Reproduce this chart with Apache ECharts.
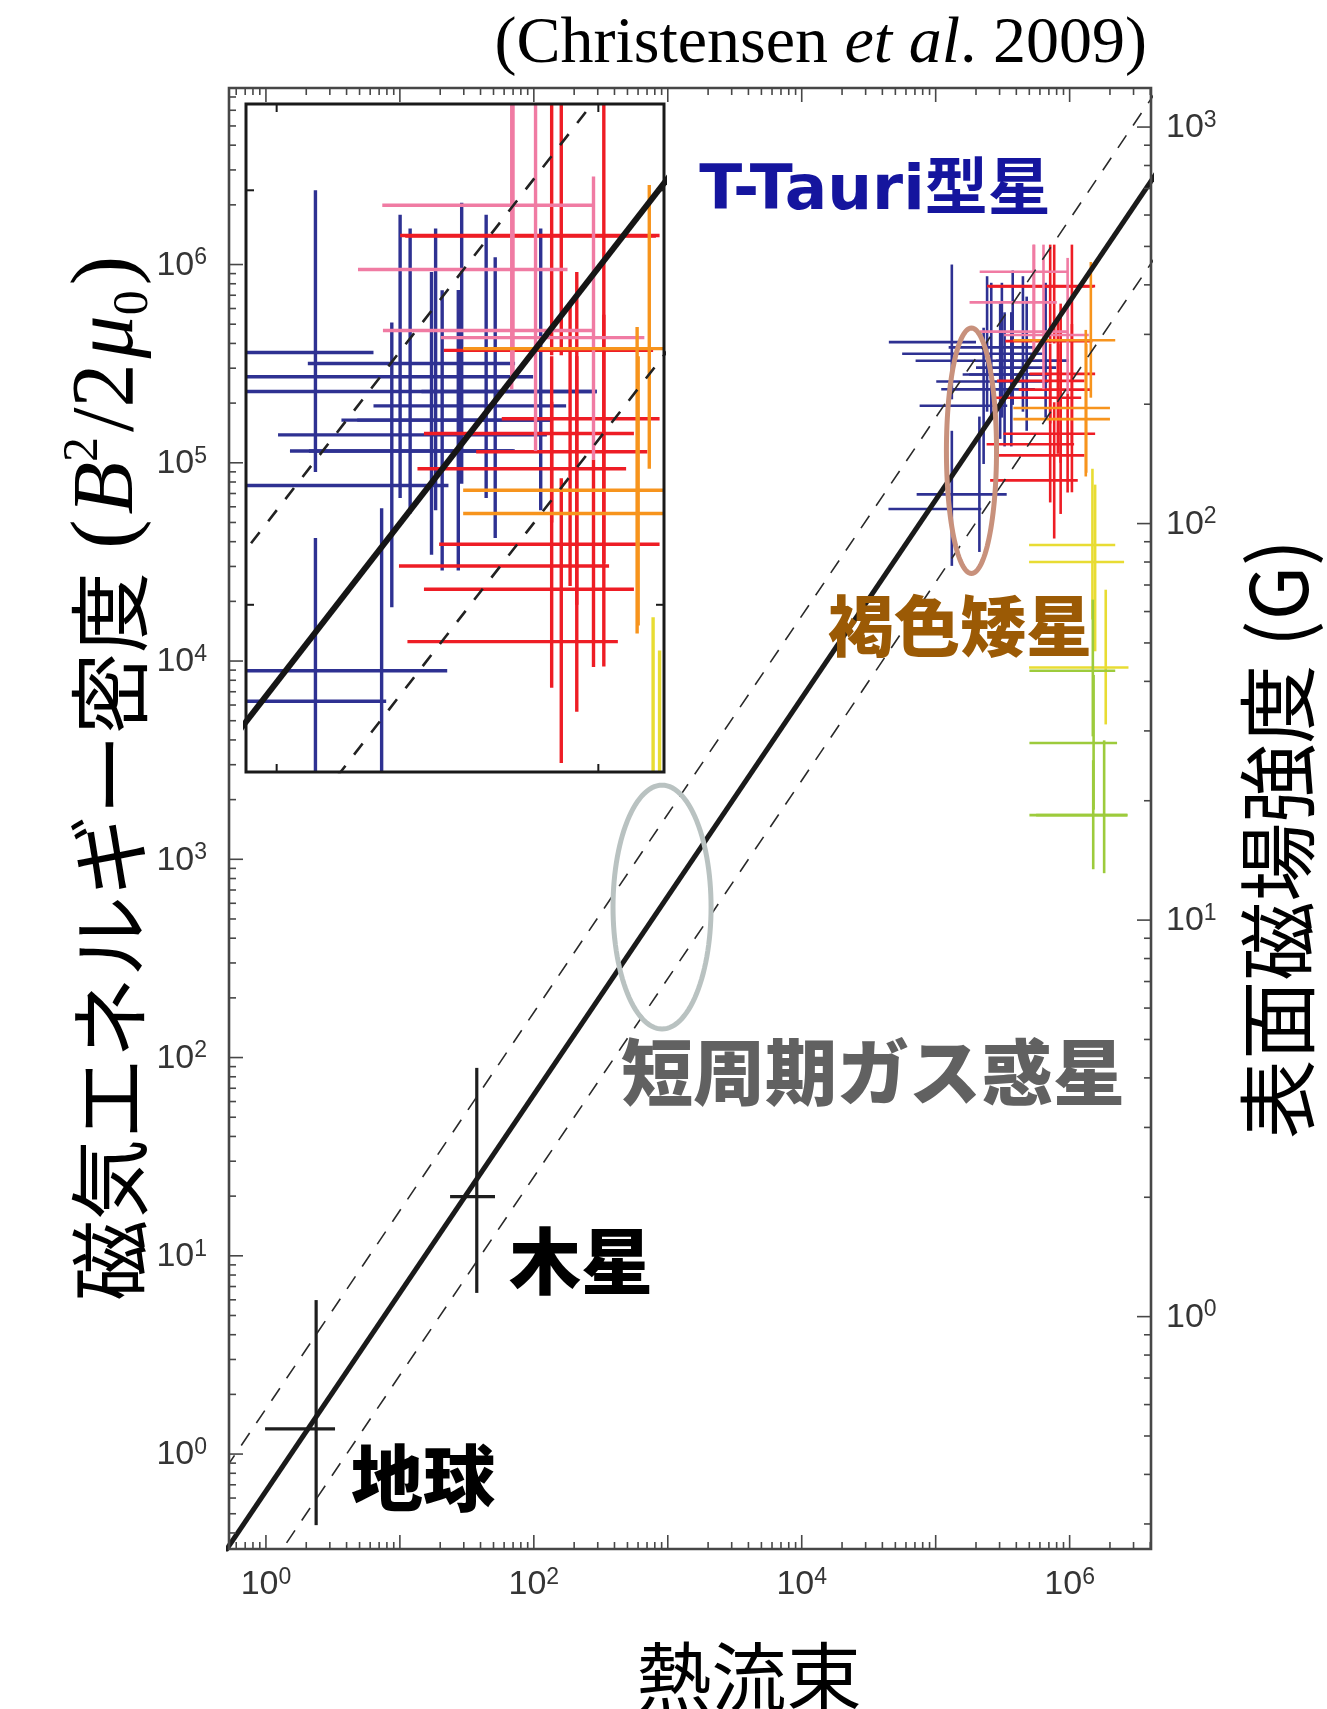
<!DOCTYPE html>
<html>
<head>
<meta charset="utf-8">
<script src="https://cdn.jsdelivr.net/npm/echarts@6/dist/echarts.min.js"></script>
<style>
  html, body { margin: 0; padding: 0; background: #fff; }
  #chart { width: 1327px; height: 1709px; }
</style>
</head>
<body>
<div id="chart"></div>
<script>
// Magnetic energy density vs. energy flux (Christensen et al. 2009)

// ---- axis ranges -------------------------------------------------------
const fluxRange = [0.530, 4.05e6];          // heat flux (bottom axis)
const energyRange = [0.332, 7.77e6];        // B^2/2mu0 (left axis)
const fieldRange = [0.2594, 1254.6];        // surface field in G (right axis)
const insetFluxRange = [8.03e4, 1.60e6];    // magnified panel
const insetEnergyRange = [3.95e4, 1.615e6];

// ---- tick labels (exponents of ten) -----------------------------------
const fluxLabelExponents = [0, 2, 4, 6];
const energyLabelExponents = [0, 1, 2, 3, 4, 5, 6];
const fieldLabelExponents = [0, 1, 2, 3];
const insetTickValues = [1e5, 1e6];

// ---- scaling law and its spread ---------------------------------------
const fitLine = [[0.3, 0.195], [1e7, 6.5e6]];
const fitUpper = [[0.3, 0.507], [1e7, 1.69e7]];
const fitLower = [[0.3, 0.075], [1e7, 2.5e6]];

// ---- objects: [flux, energy, fluxLow, fluxHigh, energyLow, energyHigh] --
const planets = [
  [2.37, 1.34, 0.985, 3.28, 0.438, 5.98],     // Earth
  [37.5, 19.9, 23.7, 51.3, 6.5, 88.7]         // Jupiter
];

const blueStars = [
  [1.32e5, 4.06e5, 4.47e4, 2.0e5, 2.09e5, 1.0e6],
  [2.42e5, 3.82e5, 1.25e5, 5.51e5, 1.81e5, 8.73e5],
  [2.60e5, 3.55e5, 5.62e4, 6.27e5, 1.66e5, 8.09e5],
  [3.03e5, 3.27e5, 7.08e4, 9.89e5, 1.32e5, 6.35e5],
  [3.12e5, 2.79e5, 1.59e5, 7.08e5, 1.69e5, 8.09e5],
  [3.27e5, 2.57e5, 1.01e5, 6.92e5, 1.21e5, 5.74e5],
  [3.67e5, 2.35e5, 1.10e5, 5.45e5, 1.21e5, 5.75e5],
  [3.76e5, 3.02e5, 2.0e5, 7.94e5, 1.96e5, 9.33e5],
  [4.48e5, 2.79e5, 1.78e5, 7.08e5, 1.81e5, 8.73e5],
  [4.78e5, 2.35e5, 1.26e5, 5.50e5, 1.45e5, 6.89e5],
  [6.62e5, 3.27e5, 2.82e5, 9.89e5, 1.69e5, 8.09e5],
  [2.28e5, 1.94e5, 7.59e4, 3.42e5, 9.86e4, 4.80e5],
  [1.32e5, 6.93e4, 7.21e4, 3.39e5, 3.02e4, 1.45e5],
  [2.12e5, 5.85e4, 4.44e4, 2.19e5, 3.55e4, 1.71e5]
];

const redStars = [
  [7.16e5, 7.78e5, 2.42e5, 1.55e6, 4.0e5, 3.16e6],
  [7.67e5, 7.76e5, 2.51e5, 1.51e6, 4.0e5, 3.16e6],
  [7.16e5, 1.40e5, 3.20e5, 1.55e6, 6.31e4, 3.09e5],
  [7.67e5, 8.15e4, 2.55e5, 1.15e6, 4.15e4, 2.02e5],
  [8.17e5, 2.34e5, 4.17e5, 1.42e6, 1.11e5, 5.28e5],
  [8.57e5, 1.24e5, 2.40e5, 1.08e6, 5.52e4, 6.35e5],
  [9.66e5, 1.09e5, 2.87e5, 1.29e6, 7.08e4, 2.24e5],
  [1.04e6, 4.11e5, 3.31e5, 1.48e6, 7.10e4, 3.16e6],
  [8.57e5, 2.13e5, 2.74e5, 1.22e6, 1.0e5, 3.98e5],
  [7.16e5, 2.81e5, 5.01e5, 1.55e6, 1.58e5, 3.98e5],
  [1.04e6, 2.59e5, 2.87e5, 1.29e6, 1.26e5, 5.01e5]
];

const pinkStars = [
  [5.38e5, 4.59e5, 2.14e5, 9.59e5, 3.31e5, 3.16e6],
  [6.38e5, 6.44e5, 1.79e5, 8.02e5, 2.35e5, 3.16e6],
  [9.66e5, 4.41e5, 3.24e5, 1.39e6, 2.24e5, 1.08e6],
  [5.43e5, 9.20e5, 2.13e5, 9.59e5, 3.55e5, 3.16e6]
];

const orangeStars = [
  [1.44e6, 4.15e5, 3.80e5, 2.19e6, 2.13e5, 1.03e6],
  [1.32e6, 1.89e5, 3.80e5, 2.0e6, 8.53e4, 4.68e5],
  [1.33e6, 1.66e5, 3.80e5, 2.0e6, 8.91e4, 3.98e5]
];

const yellowStars = [
  [1.48e6, 3.85e4, 4.98e5, 2.19e6, 1.62e4, 9.33e4],
  [1.55e6, 3.16e4, 4.98e5, 2.55e6, 1.12e4, 7.76e4],
  [1.86e6, 9.27e3, 4.98e5, 2.75e6, 4.79e3, 2.29e4]
];

const greenStars = [
  [1.49e6, 8.93e3, 5.01e5, 2.19e6, 4.17e3, 2.04e4],
  [1.51e6, 3.86e3, 5.01e5, 2.26e6, 1.78e3, 8.51e3],
  [1.50e6, 1.67e3, 5.01e5, 2.71e6, 891, 3.16e3],
  [1.81e6, 1.67e3, 5.62e5, 2.69e6, 851, 3.98e3]
];

// stellar error bars are cut at the top of the source panel in the main plot
const sourcePanelTop = 1.26e6;

// highlight rings: centre (flux, energy) and half-widths in decades
const rings = [
  { center: [1.85e5, 1.15e5], halfDecades: [0.187, 0.619], color: '#c8917c' },
  { center: [906, 574], halfDecades: [0.366, 0.615], color: '#b9c2c1' }
];

// ---- styles -------------------------------------------------------------
const AXIS_COLOR = '#474747';
const TICK_TEXT = '#353535';
const SANS = '"Liberation Sans", Arial, Helvetica, sans-serif';
const SERIF = '"Liberation Serif", "Times New Roman", serif';
const CJK = '"Noto Sans CJK JP", "Noto Sans CJK SC", sans-serif';

const starColors = {
  blue: '#2e3192', red: '#ee1d25', pink: '#f07ba3',
  orange: '#f7941d', yellow: '#e8dc33', green: '#9dcb3c'
};
const starSets = [
  [blueStars, starColors.blue],
  [redStars, starColors.red],
  [pinkStars, starColors.pink],
  [orangeStars, starColors.orange],
  [yellowStars, starColors.yellow],
  [greenStars, starColors.green]
];

const tickRich = {
  b: { fontSize: 34, fontFamily: SANS, fill: TICK_TEXT, lineHeight: 36, verticalAlign: 'bottom' },
  e: { fontSize: 23, fontFamily: SANS, fill: TICK_TEXT, lineHeight: 18, verticalAlign: 'top' }
};

// ---- helpers ------------------------------------------------------------
function decadeTicks(range, labelled) {
  const out = [];
  const k0 = Math.floor(Math.log10(range[0]));
  const k1 = Math.ceil(Math.log10(range[1]));
  for (let k = k0; k <= k1; k++) {
    for (let m = 1; m <= 9; m++) {
      const v = m * Math.pow(10, k);
      if (v > range[0] * 1.0001 && v < range[1] / 1.0001) {
        out.push({ v: v, major: m === 1 ? 1 : 0, exp: (m === 1 && labelled.indexOf(k) >= 0) ? k : -1 });
      }
    }
  }
  return out;
}

function crossRenderer(color, width, ceiling) {
  return function (params, api) {
    const x = api.value(0), y = api.value(1);
    const a = api.coord([api.value(2), y]);
    const b = api.coord([api.value(3), y]);
    const c = api.coord([x, api.value(4)]);
    const d = api.coord([x, Math.min(api.value(5), ceiling)]);
    return {
      type: 'group',
      children: [
        { type: 'line', shape: { x1: a[0], y1: a[1], x2: b[0], y2: b[1] }, style: { stroke: color, lineWidth: width } },
        { type: 'line', shape: { x1: c[0], y1: c[1], x2: d[0], y2: d[1] }, style: { stroke: color, lineWidth: width } }
      ]
    };
  };
}

function crossSeries(data, color, width, ceiling, gridIdx, z) {
  return {
    type: 'custom',
    xAxisIndex: gridIdx === 0 ? 0 : 1,
    yAxisIndex: gridIdx === 0 ? 0 : 2,
    clip: true,
    silent: true,
    z: z,
    data: data,
    renderItem: crossRenderer(color, width, ceiling)
  };
}

function lineSeries(data, gridIdx, width, dash, color, z) {
  return {
    type: 'line',
    xAxisIndex: gridIdx === 0 ? 0 : 1,
    yAxisIndex: gridIdx === 0 ? 0 : 2,
    data: data,
    symbol: 'none',
    silent: true,
    clip: true,
    z: z,
    lineStyle: { color: color, width: width, type: dash || 'solid' }
  };
}

function tickLine(x1, y1, x2, y2, w) {
  return { type: 'line', shape: { x1: x1, y1: y1, x2: x2, y2: y2 }, style: { stroke: AXIS_COLOR, lineWidth: w || 1.6 } };
}

function logAxis(gridIndex, range, extra) {
  return Object.assign({
    type: 'log', logBase: 10, gridIndex: gridIndex,
    min: range[0], max: range[1],
    axisLine: { show: false }, axisTick: { show: false },
    axisLabel: { show: false }, splitLine: { show: false }
  }, extra || {});
}

// ---- tick series (main panel) -------------------------------------------
const fluxTicks = decadeTicks(fluxRange, fluxLabelExponents);
const energyTicks = decadeTicks(energyRange, energyLabelExponents);
const fieldTicks = decadeTicks(fieldRange, fieldLabelExponents);

const xTickSeries = {
  type: 'custom', xAxisIndex: 0, yAxisIndex: 0, silent: true, z: 10,
  data: fluxTicks.map(t => [t.v, 1, t.major, t.exp]),
  renderItem: function (params, api) {
    const cs = params.coordSys;
    const px = api.coord([api.value(0), 1])[0];
    const len = api.value(2) === 1 ? 14 : 7;
    const bottom = cs.y + cs.height, top = cs.y;
    const children = [tickLine(px, bottom, px, bottom - len), tickLine(px, top, px, top + len)];
    const e = api.value(3);
    if (e >= 0) {
      children.push({ type: 'text', x: px, y: bottom + 35,
        style: { text: '{b|10}{e|' + e + '}', rich: tickRich, align: 'center', verticalAlign: 'middle' } });
    }
    if (params.dataIndex === 0) {
      children.push({ type: 'rect', shape: { x: cs.x, y: cs.y, width: cs.width, height: cs.height },
        style: { fill: 'none', stroke: AXIS_COLOR, lineWidth: 2.6 } });
    }
    return { type: 'group', children: children };
  }
};

const yTickSeries = {
  type: 'custom', xAxisIndex: 0, yAxisIndex: 0, silent: true, z: 10,
  data: energyTicks.map(t => [1, t.v, t.major, t.exp]),
  renderItem: function (params, api) {
    const cs = params.coordSys;
    const py = api.coord([1, api.value(1)])[1];
    const len = api.value(2) === 1 ? 14 : 7;
    const children = [tickLine(cs.x, py, cs.x + len, py)];
    const e = api.value(3);
    if (e >= 0) {
      children.push({ type: 'text', x: cs.x - 22, y: py,
        style: { text: '{b|10}{e|' + e + '}', rich: tickRich, align: 'right', verticalAlign: 'middle' } });
    }
    return { type: 'group', children: children };
  }
};

const fieldTickSeries = {
  type: 'custom', xAxisIndex: 0, yAxisIndex: 1, silent: true, z: 10,
  data: fieldTicks.map(t => [1, t.v, t.major, t.exp]),
  renderItem: function (params, api) {
    const cs = params.coordSys;
    const py = api.coord([1, api.value(1)])[1];
    const right = cs.x + cs.width;
    const len = api.value(2) === 1 ? 14 : 7;
    const children = [tickLine(right, py, right - len, py)];
    const e = api.value(3);
    if (e >= 0) {
      children.push({ type: 'text', x: right + 15, y: py,
        style: { text: '{b|10}{e|' + e + '}', rich: tickRich, align: 'left', verticalAlign: 'middle' } });
    }
    return { type: 'group', children: children };
  }
};

// ---- inset frame and ticks ---------------------------------------------
const insetTickSeries = {
  type: 'custom', xAxisIndex: 1, yAxisIndex: 2, silent: true, z: 10,
  data: insetTickValues.map(v => [v, v]),
  renderItem: function (params, api) {
    const cs = params.coordSys;
    const p = api.coord([api.value(0), api.value(1)]);
    const L = 8, w = 2;
    const bottom = cs.y + cs.height, right = cs.x + cs.width;
    const children = [
      { type: 'line', shape: { x1: p[0], y1: bottom, x2: p[0], y2: bottom - L }, style: { stroke: '#1a1a1a', lineWidth: w } },
      { type: 'line', shape: { x1: p[0], y1: cs.y, x2: p[0], y2: cs.y + L }, style: { stroke: '#1a1a1a', lineWidth: w } },
      { type: 'line', shape: { x1: cs.x, y1: p[1], x2: cs.x + L, y2: p[1] }, style: { stroke: '#1a1a1a', lineWidth: w } },
      { type: 'line', shape: { x1: right, y1: p[1], x2: right - L, y2: p[1] }, style: { stroke: '#1a1a1a', lineWidth: w } }
    ];
    if (params.dataIndex === 0) {
      children.push({ type: 'rect', shape: { x: cs.x, y: cs.y, width: cs.width, height: cs.height },
        style: { fill: 'none', stroke: '#1a1a1a', lineWidth: 3 } });
    }
    return { type: 'group', children: children };
  }
};

// ---- highlight rings --------------------------------------------------------
const ringSeries = {
  type: 'custom', xAxisIndex: 0, yAxisIndex: 0, silent: true, z: 8, clip: true,
  data: rings.map(r => [r.center[0], r.center[1]]),
  renderItem: function (params, api) {
    const r = rings[params.dataIndex];
    const cx = Math.log10(api.value(0)), cy = Math.log10(api.value(1));
    const pts = [];
    for (let i = 0; i < 120; i++) {
      const t = i / 120 * Math.PI * 2;
      pts.push(api.coord([Math.pow(10, cx + r.halfDecades[0] * Math.cos(t)),
                          Math.pow(10, cy + r.halfDecades[1] * Math.sin(t))]));
    }
    return { type: 'polygon', shape: { points: pts }, style: { fill: 'none', stroke: r.color, lineWidth: 5 } };
  }
};

// ---- assemble series --------------------------------------------------------
const series = [];
starSets.forEach(([data, color]) => series.push(crossSeries(data, color, 2.6, sourcePanelTop, 0, 3)));
series.push(crossSeries(planets, '#1e1e1e', 3.2, Infinity, 0, 4));
series.push(lineSeries(fitUpper, 0, 1.6, [15, 12], '#2a2a2a', 5));
series.push(lineSeries(fitLower, 0, 1.6, [15, 12], '#2a2a2a', 5));
series.push(lineSeries(fitLine, 0, 5, 'solid', '#1a1a1a', 6));
series.push(ringSeries);
series.push(xTickSeries, yTickSeries, fieldTickSeries);

starSets.forEach(([data, color]) => series.push(crossSeries(data, color, 3.4, Infinity, 1, 3)));
series.push(lineSeries(fitUpper, 1, 2.6, [14, 14], '#222', 5));
series.push(lineSeries(fitLower, 1, 2.6, [14, 14], '#222', 5));
series.push(lineSeries(fitLine, 1, 6, 'solid', '#151515', 6));
series.push(insetTickSeries);

// ---- text ------------------------------------------------------------------
const graphic = [
  { type: 'text', x: 1147, y: 45, z: 20,
    style: { text: '{n|(Christensen }{i|et al}{n|. 2009)}', align: 'right', verticalAlign: 'middle',
      rich: {
        n: { fontSize: 66, fontFamily: SERIF, fill: '#000', lineHeight: 72 },
        i: { fontSize: 66, fontFamily: SERIF, fontStyle: 'italic', fill: '#000', lineHeight: 72 }
      } } },
  { type: 'text', x: 875, y: 193, z: 20,
    style: { text: 'T-Tauri型星', align: 'center', verticalAlign: 'middle',
      fontSize: 63, fontWeight: 'bold', fontFamily: '"DejaVu Sans", ' + CJK, fill: '#15159e' } },
  { type: 'text', x: 960, y: 626, z: 20,
    style: { text: '褐色矮星', align: 'center', verticalAlign: 'middle',
      fontSize: 66, fontWeight: 900, fontFamily: CJK, fill: '#9b5a05' } },
  { type: 'text', x: 873, y: 1072, z: 20,
    style: { text: '短周期ガス惑星', align: 'center', verticalAlign: 'middle',
      fontSize: 72, fontWeight: 900, fontFamily: CJK, fill: '#616161' } },
  { type: 'text', x: 581, y: 1261, z: 20,
    style: { text: '木星', align: 'center', verticalAlign: 'middle',
      fontSize: 72, fontWeight: 900, fontFamily: CJK, fill: '#000' } },
  { type: 'text', x: 423, y: 1478, z: 20,
    style: { text: '地球', align: 'center', verticalAlign: 'middle',
      fontSize: 72, fontWeight: 900, fontFamily: CJK, fill: '#000' } },
  { type: 'text', x: 749, y: 1676, z: 20,
    style: { text: '熱流束', align: 'center', verticalAlign: 'middle',
      fontSize: 75, fontFamily: CJK, fill: '#000' } },
  { type: 'text', x: 1278, y: 839, z: 20, rotation: Math.PI / 2,
    style: { text: '表面磁場強度 (G)', align: 'center', verticalAlign: 'middle',
      fontSize: 79, fontFamily: CJK, fill: '#000' } },
  { type: 'text', x: 109, y: 776, z: 20, rotation: Math.PI / 2, scaleX: 1.0,
    style: { text: '{j|磁気エネルギー密度 }{p|(}{i|B}{s|2}{p|/2}{i|μ}{u|0}{p|)}',
      align: 'center', verticalAlign: 'middle',
      rich: {
        j: { fontSize: 81, fontFamily: CJK, fill: '#000', lineHeight: 100, verticalAlign: 'middle' },
        p: { fontSize: 88, fontFamily: SERIF, fill: '#000', lineHeight: 100, verticalAlign: 'middle', padding: [0, 5, 0, 5] },
        i: { fontSize: 86, fontFamily: SERIF, fontStyle: 'italic', fill: '#000', lineHeight: 100, verticalAlign: 'middle' },
        s: { fontSize: 50, fontFamily: SERIF, fill: '#000', lineHeight: 64, verticalAlign: 'top' },
        u: { fontSize: 50, fontFamily: SERIF, fill: '#000', lineHeight: 68, verticalAlign: 'bottom' }
      } } }
];

const option = {
  animation: false,
  backgroundColor: '#fff',
  grid: [
    { left: 229, top: 88, width: 922, height: 1461, show: true, backgroundColor: '#fff', borderWidth: 0, outerBoundsMode: 'none' },
    { left: 246, top: 104, width: 418, height: 668, show: true, backgroundColor: '#fff', borderWidth: 0, outerBoundsMode: 'none' }
  ],
  xAxis: [
    logAxis(0, fluxRange),
    logAxis(1, insetFluxRange)
  ],
  yAxis: [
    logAxis(0, energyRange),
    logAxis(0, fieldRange, { position: 'right' }),
    logAxis(1, insetEnergyRange)
  ],
  series: series,
  graphic: graphic
};

const chart = echarts.init(document.getElementById('chart'), null, { renderer: 'canvas', width: 1327, height: 1709 });
chart.setOption(option);
</script>
</body>
</html>
